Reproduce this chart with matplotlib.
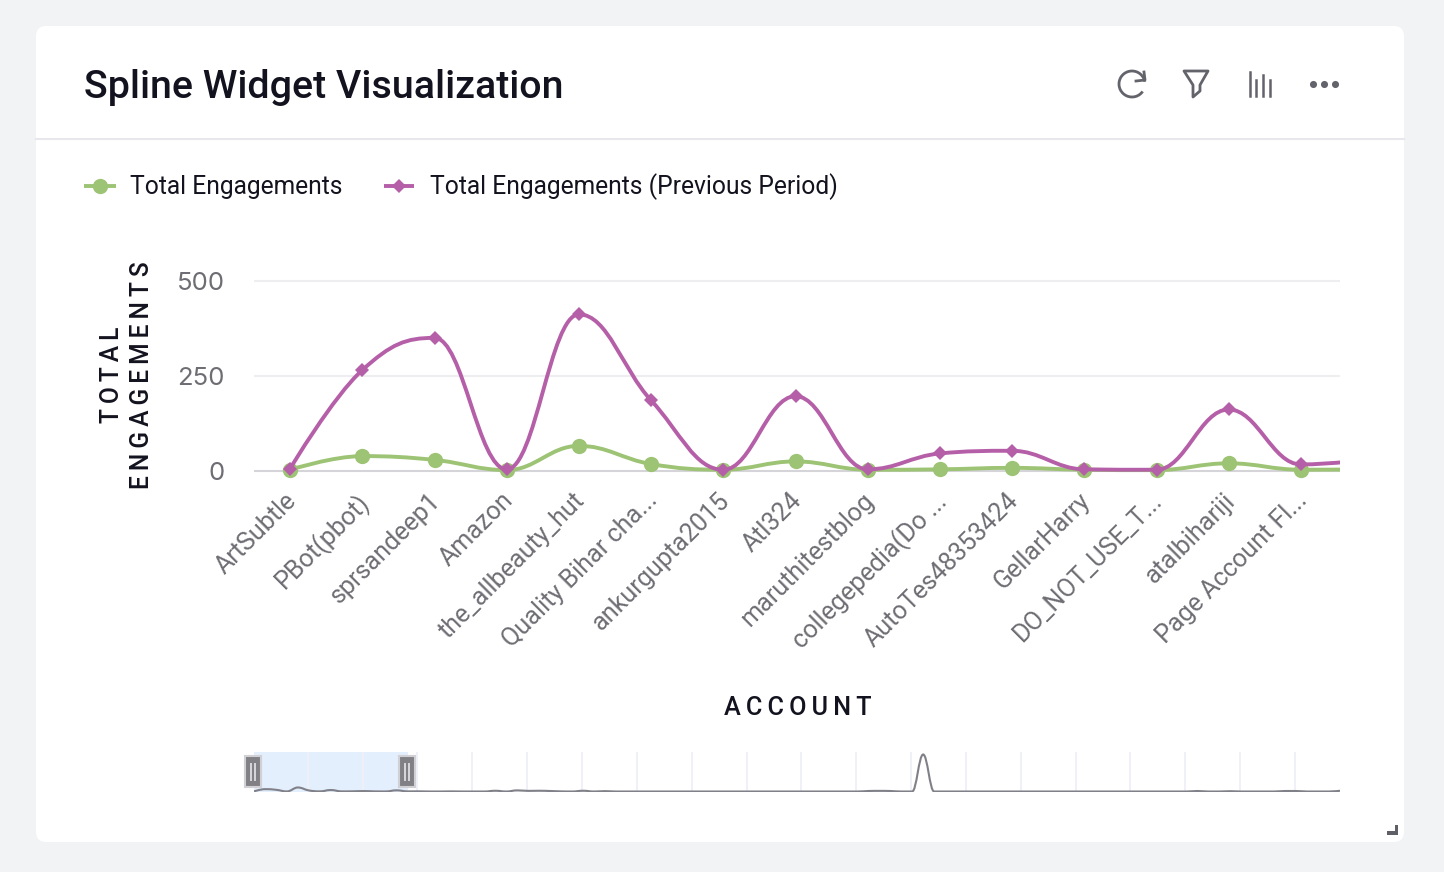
#!/usr/bin/env python3
"""Spline widget card: two spline series, navigator strip and card chrome."""

import matplotlib
matplotlib.use("Agg")
import matplotlib.pyplot as plt
from matplotlib.patches import FancyBboxPatch, PathPatch, Rectangle, Arc, Polygon
from matplotlib.path import Path
from matplotlib.transforms import ScaledTranslation

W, H = 1444, 872
HS = "\u2009"

accounts = ["ArtSubtle", "PBot(pbot)", "sprsandeep1", "Amazon", "the_allbeauty_hut",
            "Quality Bihar cha...", "ankurgupta2015", "Atl324", "maruthitestblog",
            "collegepedia(Do ...", "AutoTes48353424", "GellarHarry", "DO_NOT_USE_T...",
            "atalbihariji", "Page Account Fl..."]
# the 16th value is the next point, only its rising edge shows at the right side
total = [2, 38, 28, 1, 65, 17, 2, 24, 2, 3, 7, 2, 1, 19, 2, 3]
previous = [5, 265, 350, 3, 412, 185, 2, 196, 3, 45, 52, 3, 2, 161, 16, 30]
y_ticks = [0, 250, 500]

# navigator shows all accounts, first 16 are the ones above
nav_values = total + [0, 0, 2, 0, 0, 0, 12, 0, 18, 10, 12, 8, 2, 0, 12, 0, 6, 0, 0, 0,
                      0, 0, 0, 0, 0, 0, 0, 0, 0, 0, 0, 0, 0, 0, 0, 0, 0, 0, 0, 0,
                      8, 10, 8, 0, 0, 600, 0, 0, 0, 0, 0, 0, 0, 0, 0, 0, 0, 0, 0, 0,
                      0, 0, 0, 0, 0, 0, 0, 0, 0, 0, 8, 0, 0, 5, 0, 0, 0, 0, 8, 8,
                      0, 0, 0, 12]

GREEN = "#9dc374"
PURPLE = "#b55fa8"
TEXT = "#13131f"
MUTED = "#6d6d73"
ICON = "#63636b"


def spline_path(xs, ys, smoothing=1.5):
    # same control points the web chart library uses for its spline series
    n = len(xs)
    left = [(xs[0], ys[0])] * n
    right = [(xs[0], ys[0])] * n
    denom = smoothing + 1
    for i in range(1, n - 1):
        x, y = xs[i], ys[i]
        lx, ly = xs[i - 1], ys[i - 1]
        nx, ny = xs[i + 1], ys[i + 1]
        lcx, lcy = (smoothing * x + lx) / denom, (smoothing * y + ly) / denom
        rcx, rcy = (smoothing * x + nx) / denom, (smoothing * y + ny) / denom
        corr = (rcy - lcy) * (rcx - x) / (rcx - lcx) + y - rcy
        lcy += corr
        rcy += corr
        if lcy > ly and lcy > y:
            lcy = max(ly, y)
            rcy = 2 * y - lcy
        elif lcy < ly and lcy < y:
            lcy = min(ly, y)
            rcy = 2 * y - lcy
        if rcy > ny and rcy > y:
            rcy = max(ny, y)
            lcy = 2 * y - rcy
        elif rcy < ny and rcy < y:
            rcy = min(ny, y)
            lcy = 2 * y - rcy
        left[i] = (lcx, lcy)
        right[i] = (rcx, rcy)
    left[n - 1] = (xs[n - 1], ys[n - 1])
    right[0] = (xs[0], ys[0])
    verts = [(xs[0], ys[0])]
    codes = [Path.MOVETO]
    for i in range(1, n):
        verts += [right[i - 1], left[i], (xs[i], ys[i])]
        codes += [Path.CURVE4] * 3
    return Path(verts, codes)


def px_axes(fig, x0, y0, x1, y1):
    return fig.add_axes([x0 / W, 1 - y1 / H, (x1 - x0) / W, (y1 - y0) / H])


def draw_chrome(ov):
    ov.add_patch(FancyBboxPatch((36, 26), 1368, 816, boxstyle="round,pad=0,rounding_size=10",
                                fc="white", ec="none"))
    ov.plot([36, 1404], [139, 139], color="#e8e8ec", lw=1.5)
    ov.text(84, 87, "Spline Widget Visualization", fontsize=28.4, fontweight="medium", color=TEXT,
            ha="left", va="center")

    # refresh, filter, columns, more icons
    ov.add_patch(Arc((1132, 84), 26, 26, theta1=-325, theta2=-10, color=ICON, lw=2))
    ov.plot([1144, 1145, 1136], [72, 80, 81], color=ICON, lw=2, solid_joinstyle="round")
    ov.add_patch(Polygon([(1184, 71), (1208, 71), (1200, 85), (1200, 91), (1193, 97), (1193, 85)],
                         closed=True, fc="none", ec=ICON, lw=2, joinstyle="round"))
    for bx, top in zip([1250, 1256, 1263, 1270], [72, 80, 75, 80]):
        ov.plot([bx, bx], [top, 96], color=ICON, lw=1.8)
    ov.scatter([1313, 1324, 1335], [84, 84, 84], s=26, color=ICON, lw=0)

    # legend
    ov.plot([84, 116], [186, 186], color=GREEN, lw=2.8, solid_capstyle="butt")
    ov.plot([100], [186], "o", color=GREEN, ms=11, mew=0)
    ov.text(130, 187, "Total Engagements", fontsize=17.75, color=TEXT, va="center")
    ov.plot([384, 414], [186, 186], color=PURPLE, lw=2.8, solid_capstyle="butt")
    ov.plot([399], [186], "D", color=PURPLE, ms=7.2, mew=0)
    ov.text(430, 187, "Total Engagements (Previous Period)", fontsize=17.75, color=TEXT, va="center")

    # axis titles
    ov.text(127, 375, HS.join("TOTAL") + "\n" + HS.join("ENGAGEMENTS"), rotation=90, fontsize=17.7,
            color=TEXT, ha="center", va="center", linespacing=1.3, fontweight="medium")
    ov.text(798, 708, HS.join("ACCOUNT"), fontsize=18.2, color=TEXT, ha="center", va="center",
            fontweight="medium")

    # resize handle
    ov.add_patch(Polygon([(1395, 825), (1398, 825), (1398, 835), (1387, 835), (1387, 831), (1395, 831)],
                         closed=True, fc="#5f5f66", ec="none"))


def draw_main(fig):
    ax = px_axes(fig, 254, 270, 1340, 480)
    ax.patch.set_alpha(0)
    per_px = 500 / 189.5
    ax.set_ylim(-9.5 * per_px, 200.5 * per_px)
    ax.set_xlim(-0.5, -0.5 + 1086 / 72.2)
    for s in ax.spines.values():
        s.set_visible(False)
    ax.set_yticks(y_ticks)
    ax.set_yticklabels([str(v) for v in y_ticks])
    ax.tick_params(axis="y", length=0, pad=21, labelsize=18.5, labelcolor=MUTED)
    for label in ax.get_yticklabels():
        label.set_family(["Inter", "DejaVu Sans"])
    for v in y_ticks:
        ax.axhline(v, color="#d4d4d9" if v == 0 else "#eeeef0", lw=1.5, zorder=1)
    ax.set_xticks(range(len(accounts)))
    ax.set_xticklabels(accounts, rotation=45, ha="right", rotation_mode="anchor")
    ax.tick_params(axis="x", length=0, pad=6, labelsize=18.1, labelcolor=MUTED)
    shift = ScaledTranslation(-6 / 100, 0, fig.dpi_scale_trans)
    for label in ax.get_xticklabels():
        label.set_transform(label.get_transform() + shift)

    xs = list(range(len(total)))
    for vals, color, marker, ms, z in [(total, GREEN, "o", 11, 3), (previous, PURPLE, "D", 7.2, 4)]:
        ax.add_patch(PathPatch(spline_path(xs, vals), fc="none", ec=color, lw=2.8, zorder=z))
        ax.plot(xs[:len(accounts)], vals[:len(accounts)], ls="", marker=marker, color=color, ms=ms,
                mew=0, clip_on=False, zorder=z + 0.5)


def draw_navigator(fig, ov):
    nav = px_axes(fig, 254, 752, 1340, 792)
    nav.patch.set_alpha(0)
    nav.axis("off")
    nav.set_xlim(0, len(nav_values) - 1)
    nav.set_ylim(-0.5 * 600 / 37, 40 * 600 / 37 - 0.5 * 600 / 37)
    nav.axvspan(0, 14, color="#e3effd", lw=0, zorder=1)
    for t in range(0, 19):
        nav.axvline(4.9 + 5 * t, color="#f0f0f8", lw=1.4, zorder=2)
    xs = list(range(len(nav_values)))
    nav.add_patch(PathPatch(spline_path(xs, nav_values), fc="none", ec="#808088", lw=1.5, zorder=3))

    for x0 in (245, 399):
        ov.add_patch(Rectangle((x0, 756), 16, 31, fc="#808085", ec="#d0d0d5", lw=1.5, zorder=8))
        for bx in (x0 + 6, x0 + 10):
            ov.plot([bx, bx], [764, 780], color="#d8d8dc", lw=1.4, zorder=9)


def main():
    plt.rcParams["font.family"] = ["Roboto", "DejaVu Sans"]
    fig = plt.figure(figsize=(W / 100, H / 100), dpi=100, facecolor="#f2f3f5")
    ov = fig.add_axes([0, 0, 1, 1])
    ov.set_xlim(0, W)
    ov.set_ylim(H, 0)
    ov.axis("off")
    ov.patch.set_alpha(0)
    draw_chrome(ov)
    draw_main(fig)

    top = fig.add_axes([0, 0, 1, 1], zorder=5)
    top.set_xlim(0, W)
    top.set_ylim(H, 0)
    top.axis("off")
    top.patch.set_alpha(0)
    draw_navigator(fig, top)
    fig.savefig("out.png", dpi=100, facecolor=fig.get_facecolor())


if __name__ == "__main__":
    main()
